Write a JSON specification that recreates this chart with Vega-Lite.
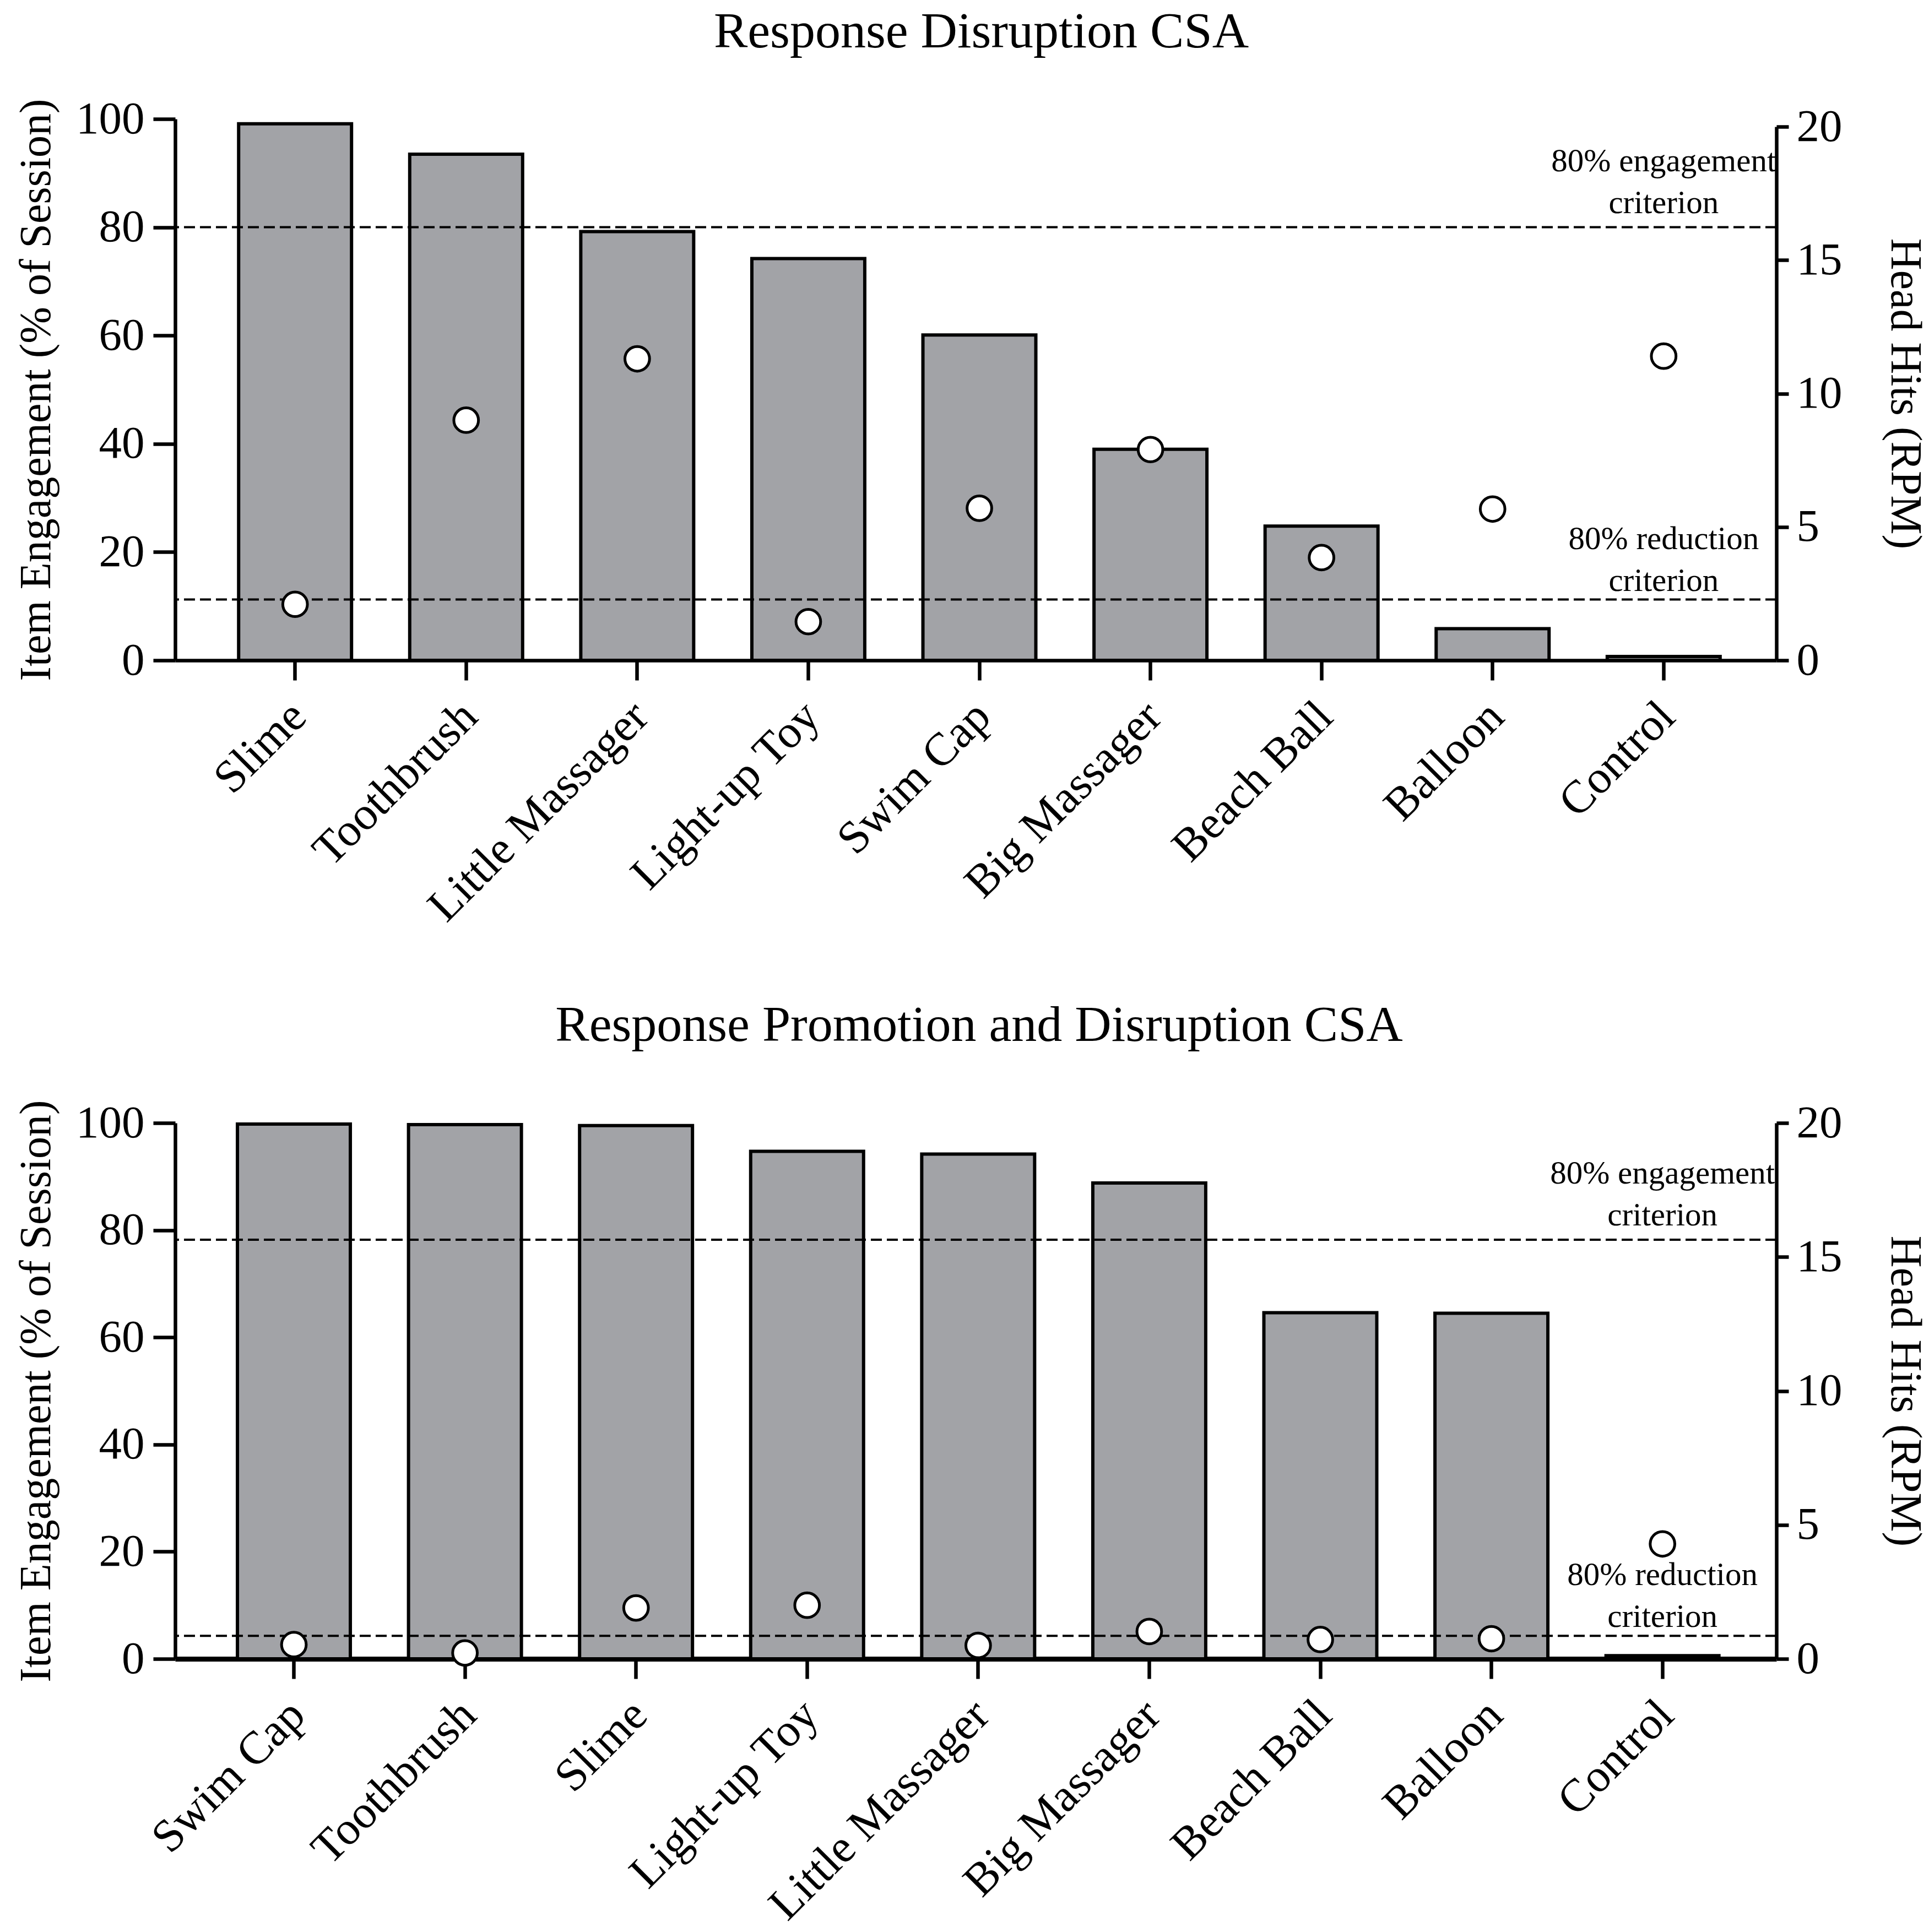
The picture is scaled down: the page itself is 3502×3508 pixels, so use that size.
{
  "$schema": "https://vega.github.io/schema/vega-lite/v6.json",
  "background": "white",
  "padding": {"left": 26, "right": 10, "top": 12, "bottom": 4},
  "datasets": {
    "disruption": [
      {"item": "Slime", "engagement": 99.1, "hits": 2.1},
      {"item": "Toothbrush", "engagement": 93.5, "hits": 9.0},
      {"item": "Little Massager", "engagement": 79.2, "hits": 11.3},
      {"item": "Light-up Toy", "engagement": 74.2, "hits": 1.45},
      {"item": "Swim Cap", "engagement": 60.1, "hits": 5.7},
      {"item": "Big Massager", "engagement": 39.0, "hits": 7.9},
      {"item": "Beach Ball", "engagement": 24.8, "hits": 3.85},
      {"item": "Balloon", "engagement": 5.85, "hits": 5.67},
      {"item": "Control", "engagement": 0.7, "hits": 11.4}
    ],
    "promotion": [
      {"item": "Swim Cap", "engagement": 99.8, "hits": 0.53},
      {"item": "Toothbrush", "engagement": 99.7, "hits": 0.22},
      {"item": "Slime", "engagement": 99.5, "hits": 1.9},
      {"item": "Light-up Toy", "engagement": 94.7, "hits": 2.0},
      {"item": "Little Massager", "engagement": 94.2, "hits": 0.5},
      {"item": "Big Massager", "engagement": 88.8, "hits": 1.02},
      {"item": "Beach Ball", "engagement": 64.6, "hits": 0.72},
      {"item": "Balloon", "engagement": 64.5, "hits": 0.75},
      {"item": "Control", "engagement": 0.6, "hits": 4.29}
    ],
    "disruption_engagement": [{"item": "Control", "engagement": 80, "label": "80% engagement\ncriterion"}],
    "disruption_reduction": [{"item": "Control", "hits": 2.28, "label": "80% reduction\ncriterion"}],
    "promotion_engagement": [{"item": "Control", "engagement": 78.2, "label": "80% engagement\ncriterion"}],
    "promotion_reduction": [{"item": "Control", "hits": 0.86, "label": "80% reduction\ncriterion"}]
  },
  "spacing": 126,
  "vconcat": [
    {
      "title": {"text": "Response Disruption CSA", "dx": 10},
      "width": 2907,
      "height": 983,
      "layer": [
        {
          "layer": [
            {
              "data": {"name": "disruption"},
              "mark": {"type": "bar", "fill": "#a2a3a7", "stroke": "black", "strokeWidth": 6},
              "encoding": {
                "x": {
                  "field": "item", "type": "nominal", "title": null,
                  "scale": {
                    "domain": ["Slime", "Toothbrush", "Little Massager", "Light-up Toy", "Swim Cap", "Big Massager", "Beach Ball", "Balloon", "Control"],
                    "paddingInner": 0.34, "paddingOuter": 0.35, "align": 0.53
                  }
                },
                "y": {
                  "field": "engagement", "type": "quantitative",
                  "title": "Item Engagement (% of Session)",
                  "scale": {"domain": [0, 100]},
                  "axis": {"orient": "left", "values": [0, 20, 40, 60, 80, 100]}
                }
              }
            },
            {
              "data": {"name": "disruption_engagement"},
              "mark": {"type": "rule", "strokeDash": [20, 9], "strokeWidth": 4, "color": "black"},
              "encoding": {
                "y": {"field": "engagement", "type": "quantitative", "title": "Item Engagement (% of Session)"}
              }
            },
            {
              "data": {"name": "disruption_engagement"},
              "mark": {"type": "text", "lineBreak": "\n", "fontSize": 59, "lineHeight": 76, "baseline": "bottom", "dy": -90, "color": "black"},
              "encoding": {
                "x": {"field": "item", "type": "nominal", "title": null},
                "y": {"field": "engagement", "type": "quantitative", "title": "Item Engagement (% of Session)"},
                "text": {"field": "label"}
              }
            }
          ]
        },
        {
          "layer": [
            {
              "data": {"name": "disruption_reduction"},
              "mark": {"type": "rule", "strokeDash": [20, 9], "strokeWidth": 4, "color": "black"},
              "encoding": {
                "y": {
                  "field": "hits", "type": "quantitative", "title": "Head Hits (RPM)",
                  "scale": {"domain": [0, 20], "range": [983, 14]},
                  "axis": {"orient": "right", "values": [0, 5, 10, 15, 20]}
                }
              }
            },
            {
              "data": {"name": "disruption_reduction"},
              "mark": {"type": "text", "lineBreak": "\n", "fontSize": 59, "lineHeight": 76, "baseline": "bottom", "dy": -80, "color": "black"},
              "encoding": {
                "x": {"field": "item", "type": "nominal", "title": null},
                "y": {"field": "hits", "type": "quantitative", "title": "Head Hits (RPM)"},
                "text": {"field": "label"}
              }
            },
            {
              "data": {"name": "disruption"},
              "mark": {"type": "point", "shape": "circle", "filled": false, "fill": "white", "fillOpacity": 1, "stroke": "black", "strokeWidth": 5, "opacity": 1, "size": 2000},
              "encoding": {
                "x": {"field": "item", "type": "nominal", "title": null},
                "y": {"field": "hits", "type": "quantitative", "title": "Head Hits (RPM)"}
              }
            }
          ]
        }
      ],
      "resolve": {"scale": {"y": "independent"}}
    },
    {
      "title": {"text": "Response Promotion and Disruption CSA", "offset": 88, "dx": 6},
      "width": 2907,
      "height": 973,
      "layer": [
        {
          "layer": [
            {
              "data": {"name": "promotion"},
              "mark": {"type": "bar", "fill": "#a2a3a7", "stroke": "black", "strokeWidth": 6},
              "encoding": {
                "x": {
                  "field": "item", "type": "nominal", "title": null,
                  "scale": {
                    "domain": ["Swim Cap", "Toothbrush", "Slime", "Light-up Toy", "Little Massager", "Big Massager", "Beach Ball", "Balloon", "Control"],
                    "paddingInner": 0.34, "paddingOuter": 0.35, "align": 0.52
                  },
                  "axis": {"domainWidth": 9}
                },
                "y": {
                  "field": "engagement", "type": "quantitative",
                  "title": "Item Engagement (% of Session)",
                  "scale": {"domain": [0, 100]},
                  "axis": {"orient": "left", "values": [0, 20, 40, 60, 80, 100]}
                }
              }
            },
            {
              "data": {"name": "promotion_engagement"},
              "mark": {"type": "rule", "strokeDash": [20, 9], "strokeWidth": 4, "color": "black"},
              "encoding": {
                "y": {"field": "engagement", "type": "quantitative", "title": "Item Engagement (% of Session)"}
              }
            },
            {
              "data": {"name": "promotion_engagement"},
              "mark": {"type": "text", "lineBreak": "\n", "fontSize": 59, "lineHeight": 76, "baseline": "bottom", "dy": -90, "color": "black"},
              "encoding": {
                "x": {"field": "item", "type": "nominal", "title": null},
                "y": {"field": "engagement", "type": "quantitative", "title": "Item Engagement (% of Session)"},
                "text": {"field": "label"}
              }
            }
          ]
        },
        {
          "layer": [
            {
              "data": {"name": "promotion_reduction"},
              "mark": {"type": "rule", "strokeDash": [20, 9], "strokeWidth": 4, "color": "black"},
              "encoding": {
                "y": {
                  "field": "hits", "type": "quantitative", "title": "Head Hits (RPM)",
                  "scale": {"domain": [0, 20]},
                  "axis": {"orient": "right", "values": [0, 5, 10, 15, 20]}
                }
              }
            },
            {
              "data": {"name": "promotion_reduction"},
              "mark": {"type": "text", "lineBreak": "\n", "fontSize": 59, "lineHeight": 76, "baseline": "bottom", "dy": -80, "color": "black"},
              "encoding": {
                "x": {"field": "item", "type": "nominal", "title": null},
                "y": {"field": "hits", "type": "quantitative", "title": "Head Hits (RPM)"},
                "text": {"field": "label"}
              }
            },
            {
              "data": {"name": "promotion"},
              "mark": {"type": "point", "shape": "circle", "filled": false, "fill": "white", "fillOpacity": 1, "stroke": "black", "strokeWidth": 5, "opacity": 1, "size": 2000},
              "encoding": {
                "x": {"field": "item", "type": "nominal", "title": null},
                "y": {"field": "hits", "type": "quantitative", "title": "Head Hits (RPM)"}
              }
            }
          ]
        }
      ],
      "resolve": {"scale": {"y": "independent"}}
    }
  ],
  "config": {
    "font": "Liberation Serif",
    "view": {"stroke": null},
    "title": {"font": "Liberation Serif", "fontSize": 92, "fontWeight": "normal", "color": "black", "anchor": "middle", "frame": "group", "offset": 70},
    "text": {"font": "Liberation Serif"},
    "axis": {
      "grid": false,
      "domainColor": "black", "domainWidth": 6.5,
      "tickColor": "black", "tickWidth": 6.5,
      "labelColor": "black", "labelFont": "Liberation Serif", "labelFontSize": 83, "labelLimit": 0,
      "titleColor": "black", "titleFont": "Liberation Serif", "titleFontSize": 80, "titleFontWeight": "normal"
    },
    "axisX": {"labelAngle": -45, "labelFontSize": 84, "tickSize": 36, "labelPadding": 24, "labelOffset": -22},
    "axisLeft": {"tickSize": 40, "labelPadding": 16, "titlePadding": 30},
    "axisRight": {"tickSize": 22, "labelPadding": 14, "titlePadding": 72}
  }
}
